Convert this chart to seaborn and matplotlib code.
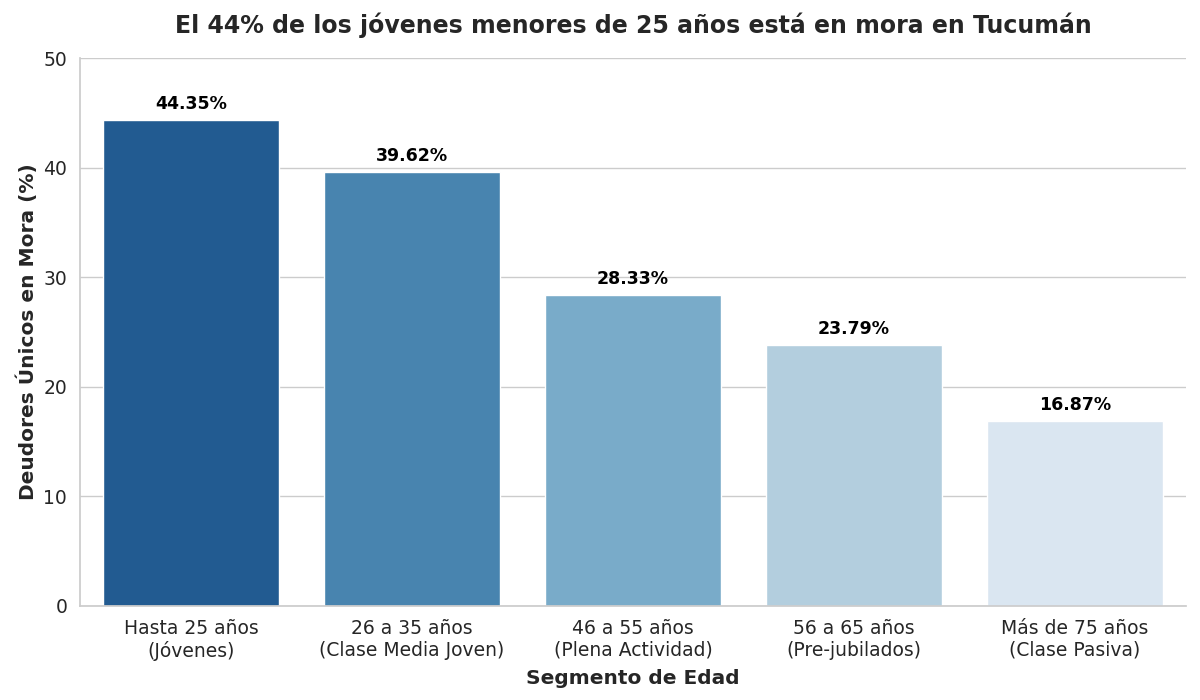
import matplotlib
matplotlib.use("Agg")
import matplotlib.pyplot as plt
import seaborn as sns
import pandas as pd

categories = ["Hasta 25 años\n(Jóvenes)", "26 a 35 años\n(Clase Media Joven)",
              "46 a 55 años\n(Plena Actividad)", "56 a 65 años\n(Pre-jubilados)",
              "Más de 75 años\n(Clase Pasiva)"]
values = [44.35, 39.62, 28.33, 23.79, 16.87]

sns.set_theme(style="whitegrid")
plt.rcParams['font.family'] = ['DejaVu Sans']

df = pd.DataFrame({"Segmento": categories, "Mora": values})
fig, ax = plt.subplots(figsize=(12, 7), dpi=100)
sns.barplot(data=df, x="Segmento", y="Mora", hue="Segmento", palette="Blues_r",
            legend=False, ax=ax)
for p, v in zip(ax.patches, values):
    ax.annotate(f"{v:.2f}%", (p.get_x() + p.get_width() / 2, p.get_height()),
                xytext=(0, 5), textcoords="offset points", ha="center", va="bottom",
                fontsize=12.5, fontweight="bold", color="black")
ax.set_ylim(0, 50)
ax.set_title("El 44% de los jóvenes menores de 25 años está en mora en Tucumán",
             fontsize=17, fontweight="bold", pad=18)
ax.set_xlabel("Segmento de Edad", fontsize=14.5, fontweight="bold", labelpad=6)
ax.set_ylabel("Deudores Únicos en Mora (%)", fontsize=14.5, fontweight="bold")
ax.tick_params(axis="both", labelsize=13.5)
ax.xaxis.grid(False)
sns.despine(ax=ax, top=True, right=True)
fig.subplots_adjust(left=0.067, right=0.988, top=0.917, bottom=0.135)
fig.savefig("out.png")
